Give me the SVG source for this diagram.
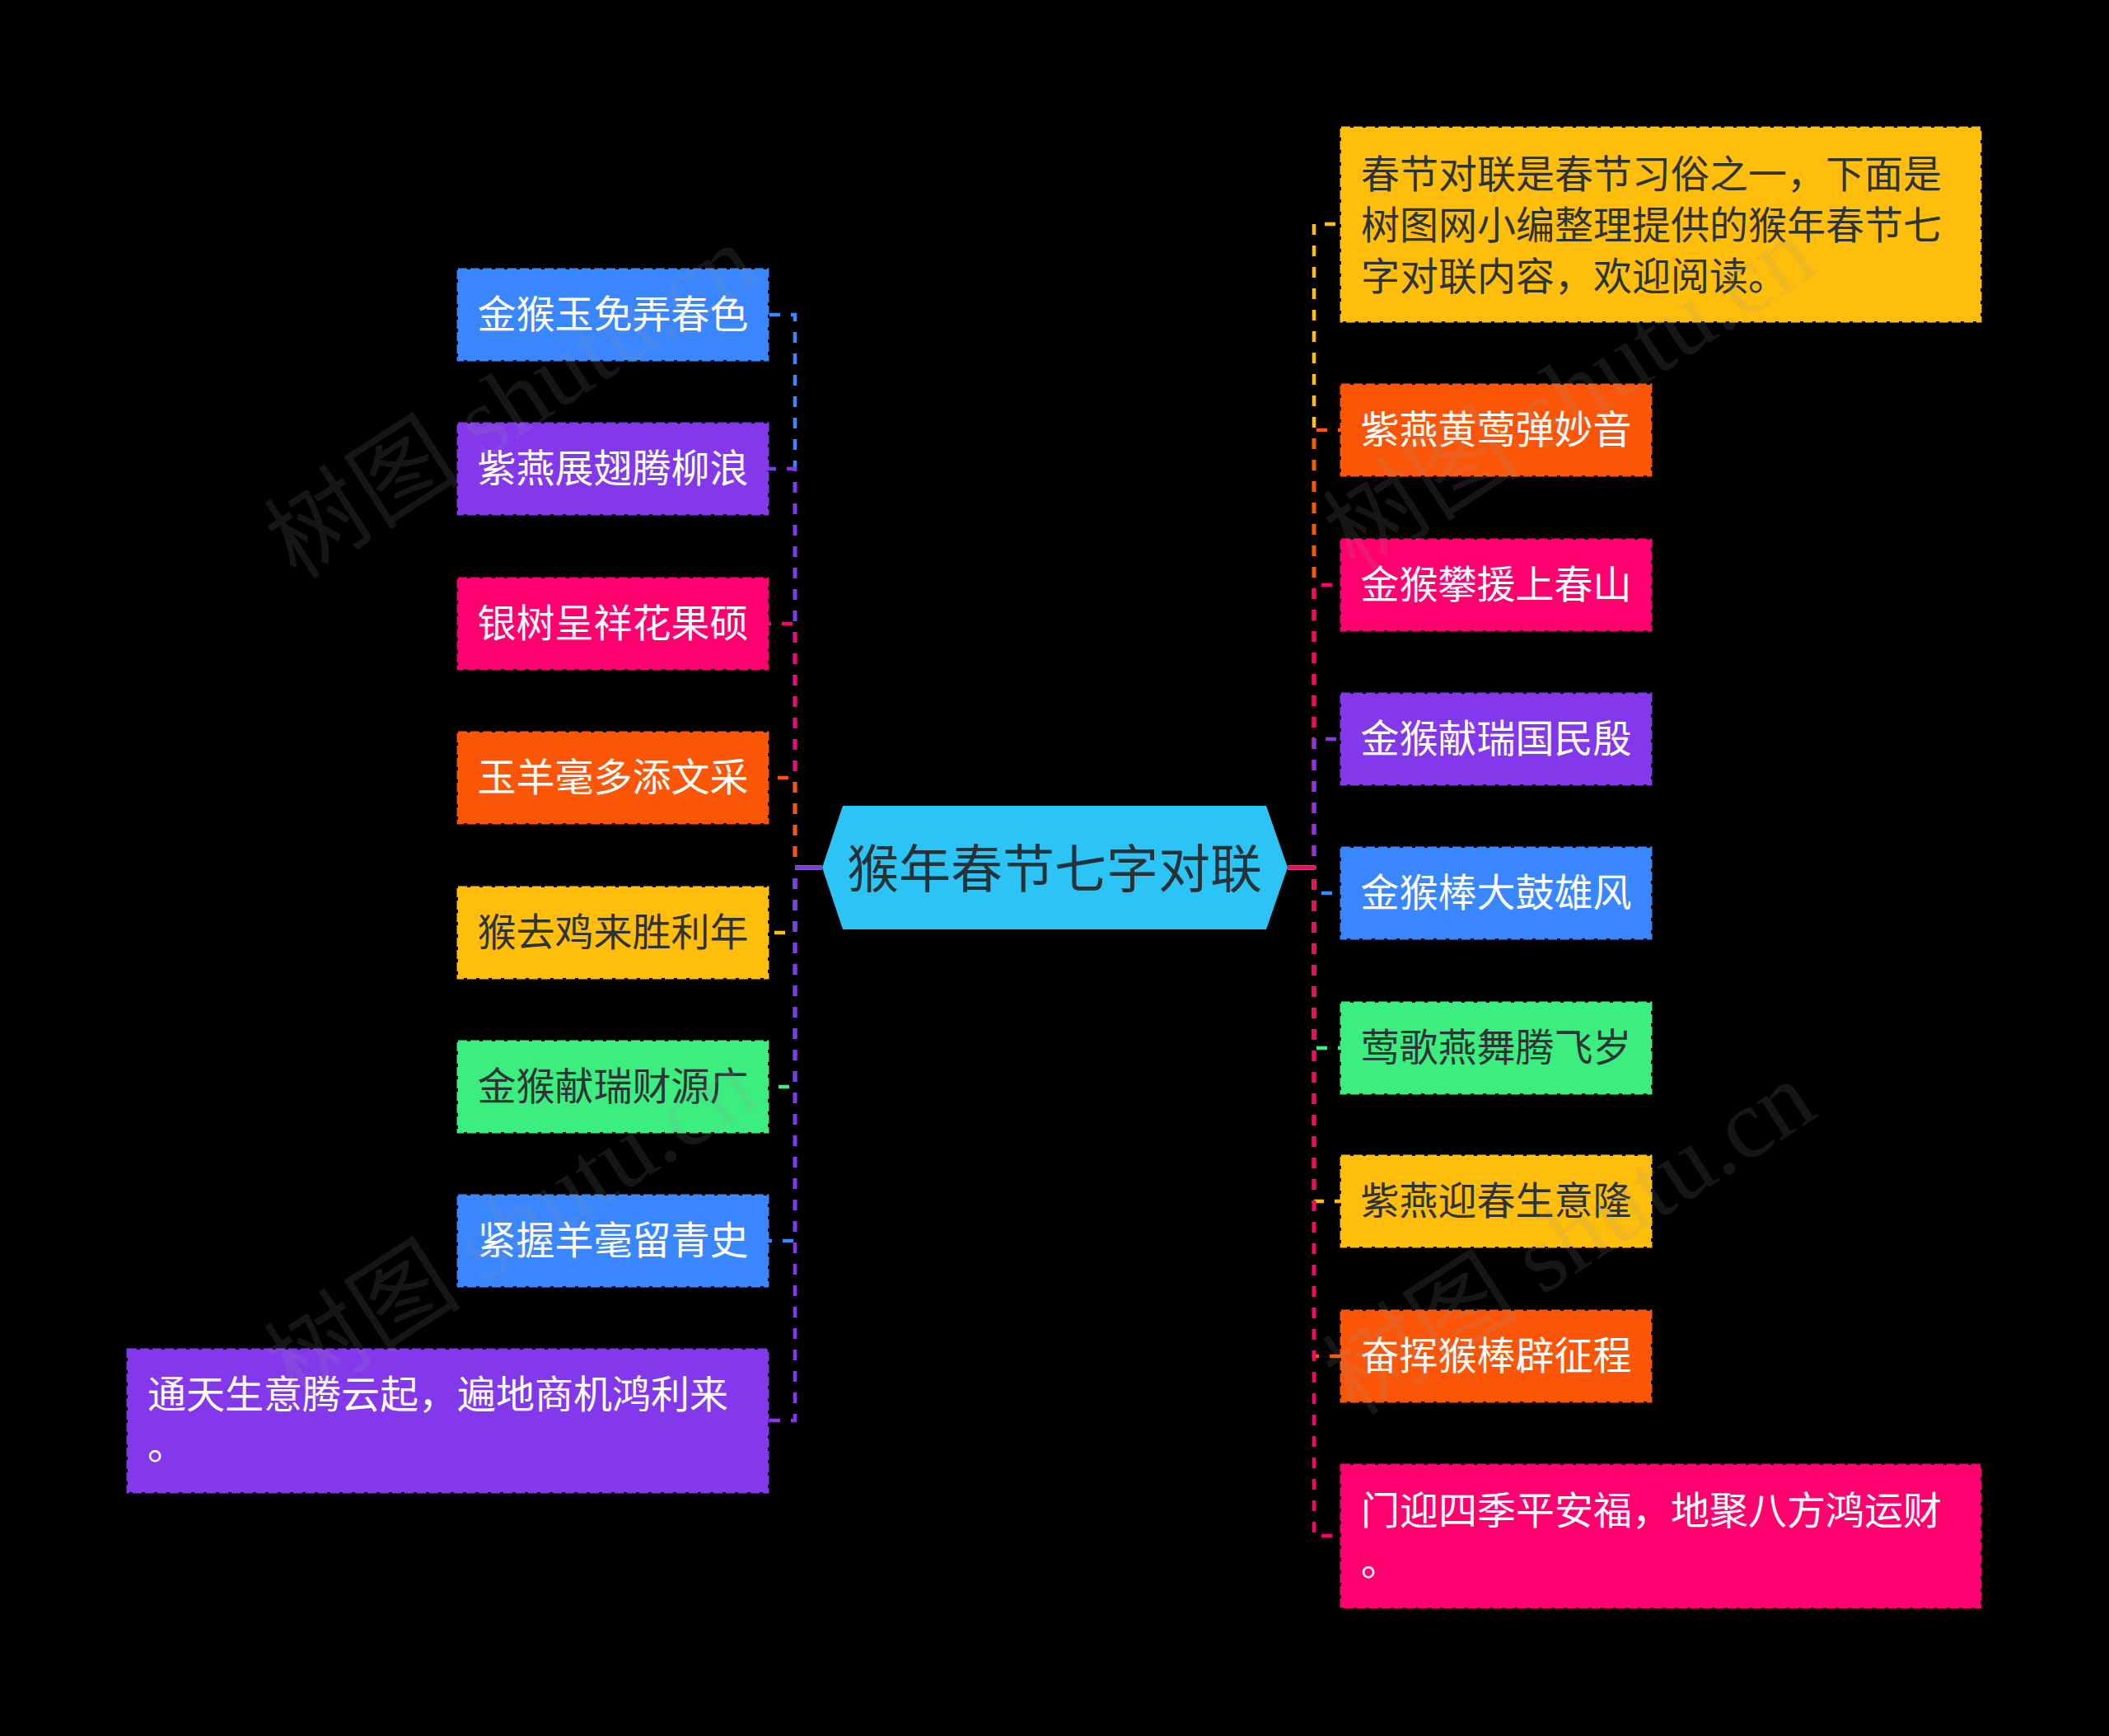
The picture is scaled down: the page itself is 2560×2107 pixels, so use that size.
<svg xmlns="http://www.w3.org/2000/svg" width="2560" height="2107" viewBox="0 0 2560 2107">
<style>
.n{stroke-width:3;stroke-dasharray:11 4}
.t{font-family:"Noto Sans CJK SC","Noto Sans",sans-serif;font-size:47px;dominant-baseline:central}
.c{text-anchor:middle}
.w{fill:#ffffff}
.d{fill:#2d3436}
.e{fill:none;stroke-width:4.5;stroke-dasharray:33 13 13 13 13 13 13 13 13 13 13 13 13 13 13 13 13 13 13 13 13 13 13 13 13 13 13 13 13 13 13 13 13 13 13 13 13 13 13 13 13 13 13 13 13 13 13 13 13 13 13 13 13 13 13 13 13 13 13 13 13 13 13 13 13 13 13 13 13 13 13 13 13 13 13 13}
.wm{font-family:"Liberation Serif","Noto Sans CJK SC",serif;font-size:120px;fill:#9a9a9a;opacity:0.14}
</style>
<rect x="0" y="0" width="2560" height="2107" fill="#000000"/>
<g id="connectors">
<path class="e" stroke="#3A86FF" d="M998 1053H965V382H932"/>
<path class="e" stroke="#8338EC" d="M998 1053H965V569H932"/>
<path class="e" stroke="#FF006E" d="M998 1053H965V757H932"/>
<path class="e" stroke="#FB5607" d="M998 1053H965V944H932"/>
<path class="e" stroke="#FFBE0B" d="M998 1053H965V1132H932"/>
<path class="e" stroke="#3CEE80" d="M998 1053H965V1319H932"/>
<path class="e" stroke="#3A86FF" d="M998 1053H965V1506H932"/>
<path class="e" stroke="#8338EC" d="M998 1053H965V1724H932"/>
<path class="e" stroke="#FFBE0B" d="M1563 1053H1595V272H1628"/>
<path class="e" stroke="#FB5607" d="M1563 1053H1595V522H1628"/>
<path class="e" stroke="#FF006E" d="M1563 1053H1595V710H1628"/>
<path class="e" stroke="#8338EC" d="M1563 1053H1595V897H1628"/>
<path class="e" stroke="#3A86FF" d="M1563 1053H1595V1084H1628"/>
<path class="e" stroke="#3CEE80" d="M1563 1053H1595V1272H1628"/>
<path class="e" stroke="#FFBE0B" d="M1563 1053H1595V1458H1628"/>
<path class="e" stroke="#FB5607" d="M1563 1053H1595V1646H1628"/>
<path class="e" stroke="#FF006E" d="M1563 1053H1595V1864H1628"/>
</g>
<g id="root">
<polygon points="998,1053 1023,978 1537,978 1563,1053 1537,1128 1023,1128" fill="#2CC4F5"/>
<text class="t c" x="1280" y="1049" style="font-size:63px" fill="#263238">猴年春节七字对联</text>
</g>
<g id="l1"><rect class="n" x="556" y="327" width="376" height="110" fill="#3A86FF" stroke="#3A86FF"/><text class="t c w" x="744" y="377">金猴玉免弄春色</text></g>
<g id="l2"><rect class="n" x="556" y="514" width="376" height="110" fill="#8338EC" stroke="#8338EC"/><text class="t c w" x="744" y="564">紫燕展翅腾柳浪</text></g>
<g id="l3"><rect class="n" x="556" y="702" width="376" height="110" fill="#FF006E" stroke="#FF006E"/><text class="t c w" x="744" y="752">银树呈祥花果硕</text></g>
<g id="l4"><rect class="n" x="556" y="889" width="376" height="110" fill="#FB5607" stroke="#FB5607"/><text class="t c w" x="744" y="939">玉羊毫多添文采</text></g>
<g id="l5"><rect class="n" x="556" y="1077" width="376" height="110" fill="#FFBE0B" stroke="#FFBE0B"/><text class="t c d" x="744" y="1127">猴去鸡来胜利年</text></g>
<g id="l6"><rect class="n" x="556" y="1264" width="376" height="110" fill="#3CEE80" stroke="#3CEE80"/><text class="t c d" x="744" y="1314">金猴献瑞财源广</text></g>
<g id="l7"><rect class="n" x="556" y="1451" width="376" height="110" fill="#3A86FF" stroke="#3A86FF"/><text class="t c w" x="744" y="1501">紧握羊毫留青史</text></g>
<g id="l8"><rect class="n" x="155" y="1638" width="777" height="173" fill="#8338EC" stroke="#8338EC"/><text class="t w" x="179" y="1688">通天生意腾云起，遍地商机鸿利来</text><text class="t w" x="179" y="1750">。</text></g>
<g id="r1"><rect class="n" x="1628" y="155" width="776" height="235" fill="#FFBE0B" stroke="#FFBE0B"/><text class="t d" x="1652" y="207">春节对联是春节习俗之一，下面是</text><text class="t d" x="1652" y="269">树图网小编整理提供的猴年春节七</text><text class="t d" x="1652" y="331">字对联内容，欢迎阅读。</text></g>
<g id="r2"><rect class="n" x="1628" y="467" width="376" height="110" fill="#FB5607" stroke="#FB5607"/><text class="t c w" x="1816" y="517">紫燕黄莺弹妙音</text></g>
<g id="r3"><rect class="n" x="1628" y="655" width="376" height="110" fill="#FF006E" stroke="#FF006E"/><text class="t c w" x="1816" y="705">金猴攀援上春山</text></g>
<g id="r4"><rect class="n" x="1628" y="842" width="376" height="110" fill="#8338EC" stroke="#8338EC"/><text class="t c w" x="1816" y="892">金猴献瑞国民殷</text></g>
<g id="r5"><rect class="n" x="1628" y="1029" width="376" height="110" fill="#3A86FF" stroke="#3A86FF"/><text class="t c w" x="1816" y="1079">金猴棒大鼓雄风</text></g>
<g id="r6"><rect class="n" x="1628" y="1217" width="376" height="110" fill="#3CEE80" stroke="#3CEE80"/><text class="t c d" x="1816" y="1267">莺歌燕舞腾飞岁</text></g>
<g id="r7"><rect class="n" x="1628" y="1403" width="376" height="110" fill="#FFBE0B" stroke="#FFBE0B"/><text class="t c d" x="1816" y="1453">紫燕迎春生意隆</text></g>
<g id="r8"><rect class="n" x="1628" y="1591" width="376" height="110" fill="#FB5607" stroke="#FB5607"/><text class="t c w" x="1816" y="1641">奋挥猴棒辟征程</text></g>
<g id="r9"><rect class="n" x="1628" y="1778" width="776" height="173" fill="#FF006E" stroke="#FF006E"/><text class="t w" x="1652" y="1829">门迎四季平安福，地聚八方鸿运财</text><text class="t w" x="1652" y="1891">。</text></g>
<g id="watermarks">
<text class="wm" x="360" y="705" transform="rotate(-33 360 705)">树图 shutu.cn</text>
<text class="wm" x="1645" y="695" transform="rotate(-33 1645 695)">树图 shutu.cn</text>
<text class="wm" x="360" y="1705" transform="rotate(-33 360 1705)">树图 shutu.cn</text>
<text class="wm" x="1645" y="1720" transform="rotate(-33 1645 1720)">树图 shutu.cn</text>
</g>
</svg>
